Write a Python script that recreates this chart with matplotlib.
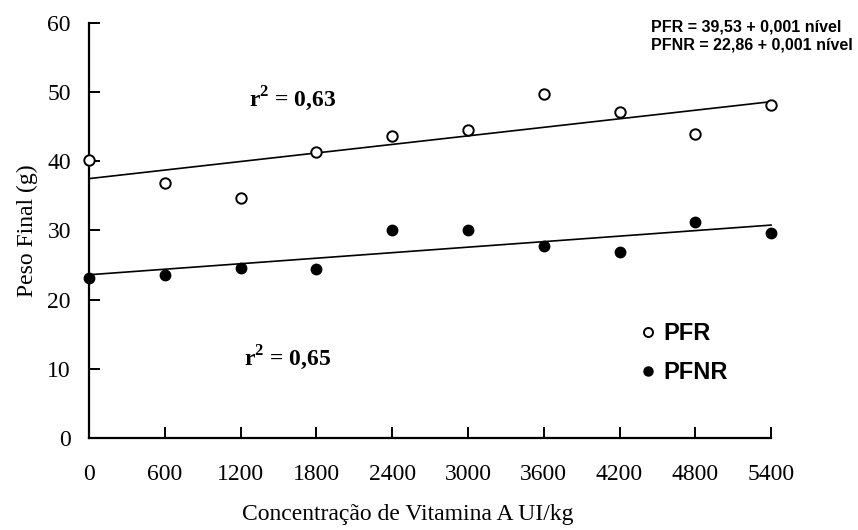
import numpy as np
import matplotlib
matplotlib.use('Agg')
import matplotlib.pyplot as plt

# dados
niveis = [0, 600, 1200, 1800, 2400, 3000, 3600, 4200, 4800, 5400]
pfr = [40.2, 36.8, 34.7, 41.4, 43.6, 44.6, 49.7, 47.2, 44.0, 48.2]
pfnr = [23.2, 23.5, 24.6, 24.4, 30.1, 30.1, 27.8, 26.9, 31.2, 29.6]

# retas de regressão (intercepto, inclinação) como aparecem no gráfico
reta_pfr = (37.5, 0.00206)
reta_pfnr = (23.6, 0.00133)

serif = ['Liberation Serif', 'DejaVu Serif']
sans = ['Liberation Sans', 'DejaVu Sans']

plt.rcParams['mathtext.fontset'] = 'custom'
plt.rcParams['mathtext.rm'] = 'Liberation Serif'
plt.rcParams['mathtext.bf'] = 'Liberation Serif:bold'

fig = plt.figure(figsize=(8.58, 5.30), dpi=100)
ax = fig.add_axes([0.1037, 0.1736, 0.795, 0.783])

x = np.array(niveis)
ax.plot(x, pfr, 'o', mfc='white', mec='black', mew=1.4, ms=7.5, ls='none',
        label='PFR', clip_on=False, zorder=3)
ax.plot(x, pfnr, 'o', mfc='black', mec='black', ms=7.5, ls='none',
        label='PFNR', clip_on=False, zorder=3)

xl = np.array([niveis[0], niveis[-1]])
ax.plot(xl, reta_pfr[0] + reta_pfr[1] * xl, color='black', lw=1.2, clip_on=False)
ax.plot(xl, reta_pfnr[0] + reta_pfnr[1] * xl, color='black', lw=1.2, clip_on=False)

ax.set_xlim(0, 5400)
ax.set_ylim(0, 60)
ax.set_xticks(niveis)
ax.set_yticks(range(0, 61, 10))

for s in ['top', 'right']:
    ax.spines[s].set_visible(False)
for s in ['left', 'bottom']:
    ax.spines[s].set_linewidth(1.6)

ax.tick_params(axis='both', direction='in', length=8, width=1.4)
ax.tick_params(axis='x', pad=19)
ax.tick_params(axis='y', pad=13)
for lab in ax.get_xticklabels() + ax.get_yticklabels():
    lab.set_family(serif)
    lab.set_fontsize(17)

ax.set_xlabel('Concentração de Vitamina A UI/kg', family=serif, fontsize=17)
ax.xaxis.set_label_coords((408 - 89) / 682, -0.158)
ax.set_ylabel('Peso Final (g)', family=serif, fontsize=17)
ax.yaxis.set_label_coords(-0.075, 0.5)

ax.text(1265, 49.05, r'$\mathbf{r}^{\mathbf{2}}$ = 0,63', family=serif, fontsize=17,
        fontweight='bold', va='center', ha='left')
ax.text(1227, 11.57, r'$\mathbf{r}^{\mathbf{2}}$ = 0,65', family=serif, fontsize=17,
        fontweight='bold', va='center', ha='left')

leg = ax.legend(loc='upper left', bbox_to_anchor=(0.78, 0.33), frameon=False,
                handlelength=0.5, handletextpad=0.4, labelspacing=0.68,
                prop={'family': sans, 'weight': 'bold', 'size': 17})
for h in leg.legend_handles:
    h.set_markersize(6.5)

fig.text(0.759, 0.949, 'PFR = 39,53 + 0,001 nível', family=sans, fontweight='bold',
         fontsize=11.5, va='center', ha='left')
fig.text(0.759, 0.915, 'PFNR = 22,86 + 0,001 nível', family=sans, fontweight='bold',
         fontsize=11.5, va='center', ha='left')

plt.savefig('out.png', dpi=100)
